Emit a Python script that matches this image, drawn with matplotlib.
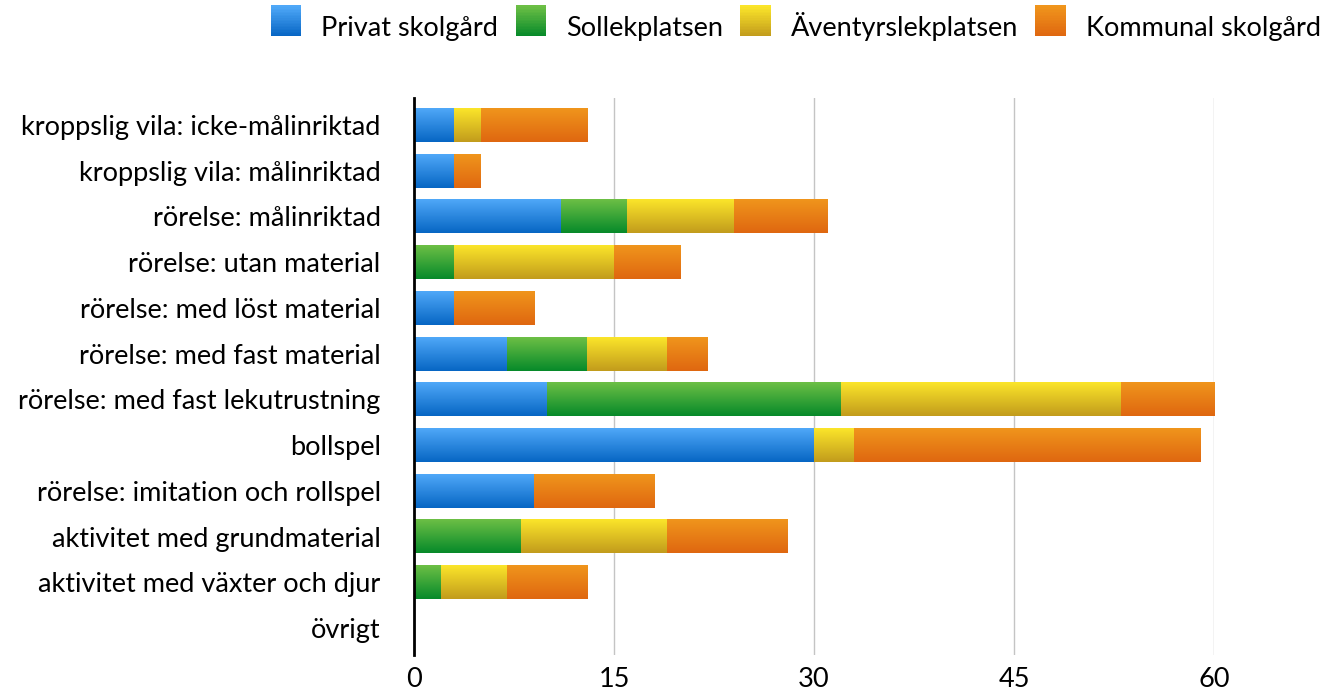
import numpy as np
import matplotlib
matplotlib.use('Agg')
import matplotlib.pyplot as plt
from matplotlib.colors import LinearSegmentedColormap
from matplotlib.patches import Patch, Rectangle
from matplotlib.legend_handler import HandlerBase

plt.rcParams['font.family'] = ['Lato', 'DejaVu Sans']

categories = ['kroppslig vila: icke-målinriktad', 'kroppslig vila: målinriktad',
              'rörelse: målinriktad', 'rörelse: utan material', 'rörelse: med löst material',
              'rörelse: med fast material', 'rörelse: med fast lekutrustning', 'bollspel',
              'rörelse: imitation och rollspel', 'aktivitet med grundmaterial',
              'aktivitet med växter och djur', 'övrigt']
series = ['Privat skolgård', 'Sollekplatsen', 'Äventyrslekplatsen', 'Kommunal skolgård']
privat = [3, 3, 11, 0, 3, 7, 10, 30, 9, 0, 0, 0]
sol = [0, 0, 5, 3, 0, 6, 22, 0, 0, 8, 2, 0]
aventyr = [2, 0, 8, 12, 0, 6, 21, 3, 0, 11, 5, 0]
kommunal = [8, 2, 7, 5, 6, 3, 7, 26, 9, 9, 6, 0]
xticks = [0, 15, 30, 45, 60]

# gradient colours (top, bottom)
grads = [('#4fa8f8', '#0766c4'), ('#6cbf45', '#078a2a'),
         ('#fbe52a', '#c29c1c'), ('#f0951c', '#df6710')]
cmaps = [LinearSegmentedColormap.from_list(n, g) for n, g in zip(series, grads)]


class GradHandler(HandlerBase):
    # legend square with the same top-to-bottom gradient as the bars
    def __init__(self, cmap):
        super().__init__()
        self.cmap = cmap

    def create_artists(self, legend, orig, xd, yd, w, h, fs, trans):
        side = h * 1.25
        x0 = xd + (w - side) / 2
        y0 = yd + (h - side) / 2
        n = 20
        out = []
        for i in range(n):
            r = Rectangle((x0, y0 + side * i / n), side, side / n + 0.3,
                          facecolor=self.cmap(1 - i / (n - 1)), edgecolor='none',
                          transform=trans)
            out.append(r)
        return out


fig = plt.figure(figsize=(13.29, 6.95), dpi=100)
ax = fig.add_axes([0.3115, 0.0576, 0.602, 0.8014])

y = np.arange(len(categories))
left = np.zeros(len(categories))
grad = np.linspace(0, 1, 64).reshape(-1, 1)
for vals, cmap in zip([privat, sol, aventyr, kommunal], cmaps):
    bars = ax.barh(y, vals, left=left, height=0.74, color='none', edgecolor='none', zorder=2)
    for b in bars:
        x0, y0 = b.get_x(), b.get_y()
        w, h = b.get_width(), b.get_height()
        if w <= 0:
            continue
        # y axis is inverted, so row 0 of the image lands on the top edge
        ax.imshow(grad, cmap=cmap, aspect='auto', extent=(x0, x0 + w, y0, y0 + h),
                  origin='lower', zorder=2, interpolation='bilinear')
    left += np.array(vals)

ax.set_xlim(0, 60)
ax.set_ylim(len(categories) - 0.41, -0.59)
ax.set_yticks(y)
ax.set_yticklabels(categories, fontsize=19.5)
ax.set_xticks(xticks)
ax.set_xticklabels([str(t) for t in xticks], fontsize=19.5)
ax.tick_params(length=0)
ax.tick_params(axis='x', pad=9)
ax.tick_params(axis='y', pad=24)
ax.grid(axis='x', color='#c4c4c4', linewidth=1, zorder=0)
for s in ['top', 'right', 'bottom']:
    ax.spines[s].set_visible(False)
ax.spines['left'].set_linewidth(2)
ax.spines['left'].set_color('black')
ax.spines['left'].set_zorder(3)

handles = [Patch(label=s) for s in series]
fig.legend(handles, series, loc='upper right', bbox_to_anchor=(1.008, 1.01), ncol=4,
           frameon=False, fontsize=19.5, handlelength=1.0, handleheight=1.0,
           handletextpad=0.8, columnspacing=0.7, borderaxespad=0.3,
           handler_map={h: GradHandler(c) for h, c in zip(handles, cmaps)})

fig.savefig('out.png', dpi=100)
